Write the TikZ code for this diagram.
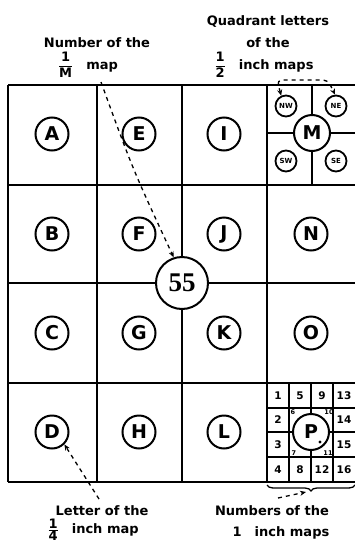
\documentclass[tikz,border=0pt]{standalone}
\usepackage{fontspec}
\setmainfont{DejaVu Sans}
\newfontfamily\sheetfont{Liberation Serif}
\usetikzlibrary{calc}
\usetikzlibrary{arrows.meta}
\usetikzlibrary{decorations.pathreplacing}

\newcommand{\scalefrac}[2]{$\displaystyle\frac{\mbox{#1}}{\mbox{#2}}$}
\newcommand{\tightfrac}[2]{$\textstyle\frac{\mbox{#1}}{\mbox{#2}}$}

\tikzset{
  letter/.style={circle, draw, line width=2pt, fill=white, minimum size=33pt, inner sep=0pt, font=\bfseries\fontsize{19}{19}\selectfont},
  quadrant/.style={circle, draw, line width=1.8pt, fill=white, minimum size=21pt, inner sep=0pt, font=\bfseries\fontsize{7}{7}\selectfont},
  sheetno/.style={inner sep=0pt, font=\bfseries\fontsize{10.5}{10.5}\selectfont},
  subsheetno/.style={inner sep=0pt, font=\bfseries\fontsize{6.5}{6.5}\selectfont},
  caption/.style={inner sep=0pt, font=\bfseries\fontsize{13}{13}\selectfont},
  pointer/.style={line width=1.3pt, dash pattern=on 4pt off 4pt, -{Stealth[length=6pt,width=5pt]}},
  twopointer/.style={line width=1.3pt, dash pattern=on 4pt off 4pt, {Stealth[length=6pt,width=5pt]}-{Stealth[length=6pt,width=5pt]}},
}

\begin{document}
\begin{tikzpicture}[x=1pt, y=-1pt, line width=1.8pt]

    \useasboundingbox (0,0) rectangle (355,544);

    %%%%%%%%%%%%%%%%%%%%%%%%%%
    % 1/M map grid
    %%%%%%%%%%%%%%%%%%%%%%%%%%
    \draw (8,85) -- (355,85);
    \draw (8,185) -- (355,185);
    \draw (8,283) -- (355,283);
    \draw (8,383) -- (355,383);
    \draw (8,482) -- (355,482);

    \draw (8,85) -- (8,482);
    \draw (97,85) -- (97,482);
    \draw (182,85) -- (182,482);
    \draw (267,85) -- (267,482);

    %%%%%%%%%%%%%%%%%%%%%%%%%%
    % 1/4 inch maps
    %%%%%%%%%%%%%%%%%%%%%%%%%%
    \node [letter] (A) at (52,134) {A};
    \node [letter] (B) at (52,234) {B};
    \node [letter] (C) at (52,333) {C};
    \node [letter] (D) at (52,432) {D};
    \node [letter] (E) at (139,134) {E};
    \node [letter] (F) at (139,234) {F};
    \node [letter] (G) at (139,333) {G};
    \node [letter] (H) at (139,432) {H};
    \node [letter] (I) at (224,134) {I};
    \node [letter] (J) at (224,234) {J};
    \node [letter] (K) at (224,333) {K};
    \node [letter] (L) at (224,432) {L};
    \node [letter] (N) at (311,234) {N};
    \node [letter] (O) at (311,333) {O};

    % quadrants of M
    \draw (267,133) -- (355,133);
    \draw (312,85) -- (312,185);
    \node [letter, minimum size=36pt] (M) at (312,133) {M};
    \node [quadrant] (NW) at (286,106) {NW};
    \node [quadrant] (NE) at (336,106) {NE};
    \node [quadrant] (SW) at (286,161) {SW};
    \node [quadrant] (SE) at (336,161) {SE};

    % 1 inch maps in P
    \draw (289,383) -- (289,482);
    \draw (311,383) -- (311,482);
    \draw (333,383) -- (333,482);
    \draw (267,408) -- (355,408);
    \draw (267,432) -- (355,432);
    \draw (267,457) -- (355,457);
    \node [letter, minimum size=36pt] (P) at (311,432) {P};
    \fill (320,442) circle [radius=1.6pt];

    \node [sheetno] (s1) at (278,396) {1};
    \node [sheetno] (s5) at (300,396) {5};
    \node [sheetno] (s9) at (322,396) {9};
    \node [sheetno] (s13) at (344,396) {13};
    \node [sheetno] (s2) at (278,420) {2};
    \node [sheetno] (s14) at (344,420) {14};
    \node [sheetno] (s3) at (278,445) {3};
    \node [sheetno] (s15) at (344,445) {15};
    \node [sheetno] (s4) at (278,470) {4};
    \node [sheetno] (s8) at (300,470) {8};
    \node [sheetno] (s12) at (322,470) {12};
    \node [sheetno] (s16) at (344,470) {16};
    \node [subsheetno] (s6) at (293,412) {6};
    \node [subsheetno] (s10) at (329,412) {10};
    \node [subsheetno] (s7) at (294,453) {7};
    \node [subsheetno] (s11) at (328,453) {11};

    % number of the 1/M map
    \node [letter, minimum size=52pt, font=\sheetfont\bfseries\fontsize{27}{27}\selectfont] (sheet55) at (182,283) {55};

    %%%%%%%%%%%%%%%%%%%%%%%%%%
    % captions
    %%%%%%%%%%%%%%%%%%%%%%%%%%
    \node [caption] (numtitle) at (97,43) {Number of the};
    \node [caption] (numscale) at (88,65) {\scalefrac{1}{M}\quad map};
    \node [caption] (quadtitle) at (268,22) {Quadrant letters};
    \node [caption] (quadof) at (268,43) {of the};
    \node [caption] (quadscale) at (264,65) {\scalefrac{1}{2}\quad inch maps};
    \node [caption] (lettitle) at (102,511) {Letter of the};
    \node [caption] (letscale) at (93,530) {\tightfrac{1}{4}\quad inch map};
    \node [caption] (onetitle) at (272,511) {Numbers of the};
    \node [caption] (onescale) at (281,533) {1\quad inch maps};

    %%%%%%%%%%%%%%%%%%%%%%%%%%
    % pointers
    %%%%%%%%%%%%%%%%%%%%%%%%%%
    \coordinate (mapstart) at (101,82);
    \draw [pointer] (mapstart) .. controls (133,170) .. (sheet55.108);

    \draw [twopointer] (NW.115) .. controls (277,80) .. (288,80) -- (318,80) .. controls (328,80) .. (NE.95);

    \coordinate (letstart) at (99,499);
    \draw [pointer] (letstart) -- (D.south east);

    \draw [line width=1.3pt, decorate, decoration={brace, amplitude=6pt}] (355,485) -- (267,485);
    \coordinate (numstart) at (278,498);
    \coordinate (bracetip) at (306,492);
    \draw [pointer] (numstart) -- (bracetip);

\end{tikzpicture}
\end{document}
